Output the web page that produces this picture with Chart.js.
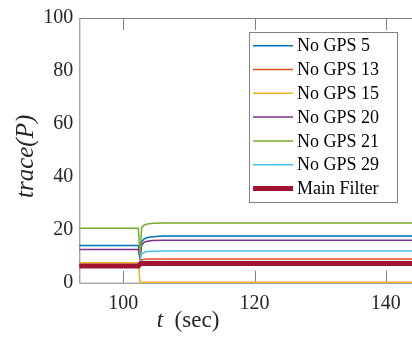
<!DOCTYPE html>
<html>
<head>
<meta charset="utf-8">
<script src="https://cdn.jsdelivr.net/npm/chart.js@4"></script>
<style>
  html, body { margin: 0; padding: 0; background: #fff; overflow: hidden; }
  #wrap { width: 412px; height: 344px; }
</style>
</head>
<body>
<div id="wrap"><canvas id="chart" width="412" height="344"></canvas></div>
<script>
// time stamps (sec)
const timeSec   = [93.3, 102.3, 102.55, 102.8, 103.2, 103.7, 104.5, 106, 144];
// trace(P) per filter
const noGps5    = [14.1, 14.1, 9.5, 15.5, 16.6, 17.1, 17.4, 17.6, 17.6];
const noGps13   = [6.5, 6.5, 8.0, 8.7, 8.9, 9.0, 9.0, 9.0, 9.0];
const noGps15   = [7.5, 7.5, 0.2, 0.2, 0.2, 0.2, 0.2, 0.2, 0.2];
const noGps20   = [12.5, 12.5, 9.0, 14.3, 15.3, 15.7, 15.9, 16.0, 16.0];
const noGps21   = [20.6, 20.6, 9.8, 20.8, 21.8, 22.2, 22.5, 22.6, 22.6];
const noGps29   = [6.5, 6.5, 8.5, 10.8, 11.5, 11.8, 11.9, 12.0, 12.0];
const mainFilter = [6.3, 6.3, 7.0, 7.3, 7.3, 7.3, 7.3, 7.3, 7.3];

const seriesLabels = ['No GPS 5', 'No GPS 13', 'No GPS 15', 'No GPS 20', 'No GPS 21', 'No GPS 29', 'Main Filter'];
const seriesData = [noGps5, noGps13, noGps15, noGps20, noGps21, noGps29, mainFilter];
const seriesColors = ['#0072BD', '#D95319', '#EDB120', '#7E2F8E', '#77AC30', '#4DBEEE', '#A2142F'];

const xTickValues = [100, 120, 140];
const yTickValues = [0, 20, 40, 60, 80, 100];

const axisColor = '#262626';
const serif = '"Liberation Serif", "DejaVu Serif", serif';

Chart.defaults.font.family = serif;

const datasets = seriesLabels.map((label, i) => ({
  label,
  data: seriesData[i].map((v, k) => ({ x: timeSec[k], y: v })),
  borderColor: seriesColors[i],
  borderWidth: i === 6 ? 5 : 1.5,
  pointRadius: 0,
  tension: 0,
  fill: false,
  clip: 4,
  order: 6 - i
}));

// frame, inward ticks, axis titles and the legend box
const decorations = {
  id: 'decorations',
  beforeDatasetsDraw(chart) {
    const { ctx, chartArea: a, scales } = chart;
    ctx.save();
    ctx.strokeStyle = '#808080';
    ctx.lineWidth = 1;
    ctx.beginPath();
    ctx.moveTo(a.left + 0.5, a.top + 0.5);
    ctx.lineTo(a.right + 1, a.top + 0.5);
    ctx.moveTo(a.left + 0.5, a.top);
    ctx.lineTo(a.left + 0.5, a.bottom + 0.5);
    ctx.lineTo(a.right + 1, a.bottom + 0.5);
    xTickValues.forEach(v => {
      const px = Math.round(scales.x.getPixelForValue(v)) + 0.5;
      ctx.moveTo(px, a.bottom);
      ctx.lineTo(px, a.bottom - 12);
      ctx.moveTo(px, a.top);
      ctx.lineTo(px, a.top + 12);
    });
    ctx.stroke();
    ctx.restore();
  },
  afterDraw(chart) {
    const { ctx, chartArea: a } = chart;
    ctx.save();
    ctx.fillStyle = axisColor;
    // y title
    ctx.translate(26, (a.top + a.bottom) / 2 + 6);
    ctx.rotate(-Math.PI / 2);
    ctx.font = 'italic 25px ' + serif;
    ctx.textAlign = 'center';
    ctx.textBaseline = 'middle';
    ctx.fillText('trace(P)', 0, 0);
    ctx.setTransform(1, 0, 0, 1, 0, 0);
    // x title
    ctx.textBaseline = 'alphabetic';
    ctx.textAlign = 'left';
    ctx.font = 'italic 23px ' + serif;
    const tW = ctx.measureText('t').width;
    ctx.font = '23px ' + serif;
    const rest = '  (sec)';
    const rW = ctx.measureText(rest).width;
    const x0 = 188 - (tW + rW) / 2;
    ctx.font = 'italic 23px ' + serif;
    ctx.fillText('t', x0, 327);
    ctx.font = '23px ' + serif;
    ctx.fillText(rest, x0 + tW, 327);

    // legend
    const box = { l: 249.5, t: 32.5, r: 397.5, b: 202.5 };
    ctx.fillStyle = '#fff';
    ctx.fillRect(box.l, box.t, box.r - box.l, box.b - box.t);
    ctx.strokeStyle = '#808080';
    ctx.lineWidth = 1;
    ctx.strokeRect(box.l, box.t, box.r - box.l, box.b - box.t);
    ctx.font = '18px ' + serif;
    ctx.textBaseline = 'middle';
    chart.data.datasets.forEach((ds, i) => {
      const y = 45.7 + i * 23.8;
      ctx.strokeStyle = ds.borderColor;
      ctx.lineWidth = ds.borderWidth;
      ctx.beginPath();
      ctx.moveTo(253, y);
      ctx.lineTo(293, y);
      ctx.stroke();
      ctx.fillStyle = '#000';
      ctx.fillText(ds.label, 297, y + 1);
    });
    ctx.restore();
  }
};

new Chart(document.getElementById('chart'), {
  type: 'line',
  data: { datasets },
  options: {
    responsive: false,
    animation: false,
    layout: { padding: { top: 15.7, right: 0, left: 0, bottom: 0 } },
    plugins: { legend: { display: false }, tooltip: { enabled: false } },
    scales: {
      x: {
        type: 'linear',
        min: 93.3,
        max: 144,
        afterBuildTicks(scale) { scale.ticks = xTickValues.map(v => ({ value: v })); },
        afterFit(scale) { scale.height = 61.3; },
        grid: { display: false, drawTicks: false },
        border: { display: false },
        ticks: {
          color: axisColor,
          font: { family: serif, size: 20 },
          padding: 9,
          maxRotation: 0
        }
      },
      y: {
        min: 0,
        max: 100,
        afterBuildTicks(scale) { scale.ticks = yTickValues.map(v => ({ value: v })); },
        afterFit(scale) { scale.width = 79.3; },
        grid: { display: false, drawTicks: false },
        border: { display: false },
        ticks: {
          color: axisColor,
          font: { family: serif, size: 20 },
          padding: 6
        }
      }
    }
  },
  plugins: [decorations]
});
</script>
</body>
</html>
